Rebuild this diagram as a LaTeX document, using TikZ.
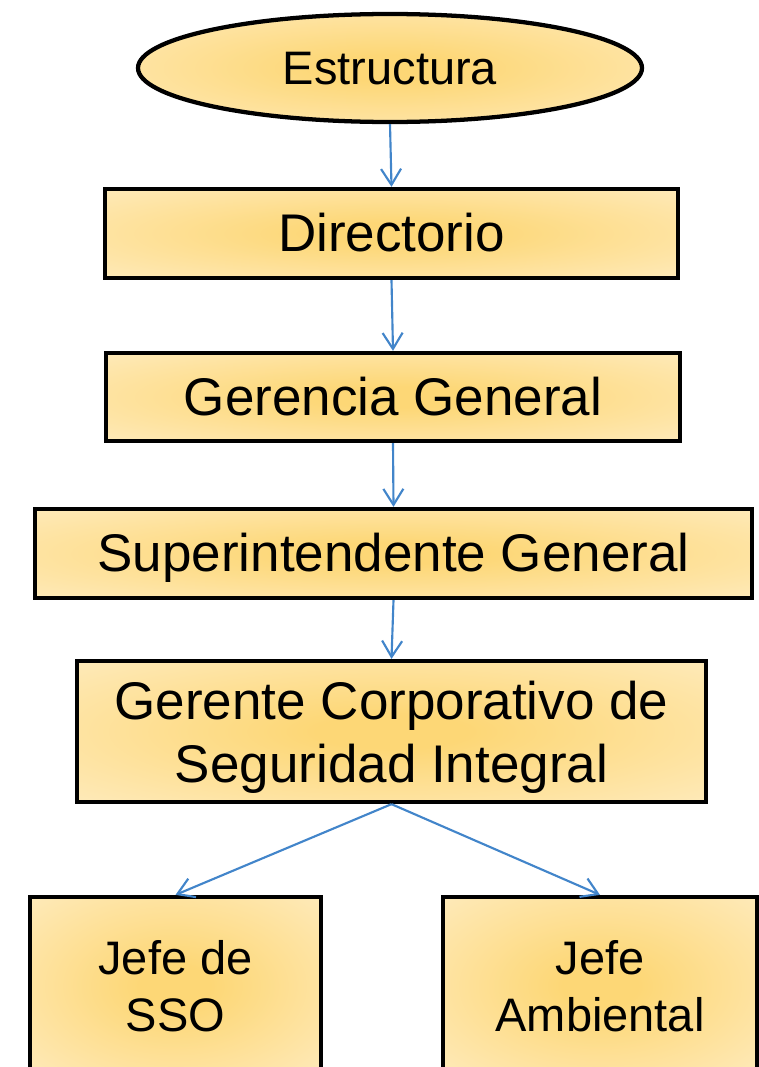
\documentclass[tikz,border=0pt]{standalone}
\usepackage{fontspec}
\setmainfont{Liberation Sans}
\usetikzlibrary{shapes.geometric,arrows.meta}

\definecolor{goldmid}{RGB}{253,215,118}
\definecolor{goldedge}{RGB}{255,243,218}
\definecolor{linkblue}{RGB}{66,133,202}

\pgfdeclareradialshading{goldglow}{\pgfpoint{0bp}{0bp}}{%
  color(0bp)=(goldmid); color(6bp)=(goldmid); color(50bp)=(goldedge)}

\tikzset{every picture/.style={line width=0.75pt}}
\tikzset{
  orgbox/.style={draw=black, line width=3.2pt, inner sep=0pt, align=center,
    shading=goldglow, font=\fontsize{39.75}{47.25}\selectfont},
  oneline/.style={text height=36pt, text depth=8.4pt},
  orgarrow/.style={draw=linkblue, line width=1.6pt, -{Straight Barb[length=12pt,width=15pt,line width=1.6pt]}}
}

\begin{document}
\begin{tikzpicture}[x=0.75pt,y=0.75pt,yscale=-1,xscale=1]
\useasboundingbox (0,0) rectangle (759,1067);

% Ellipse
\node (estructura) [orgbox, ellipse, text height=31.9pt, text depth=7.5pt,
  minimum width=378pt, minimum height=81pt,
  font=\fontsize{35.25}{42}\selectfont] at (390,68) {Estructura};
% Text Node
\node (directorio) [orgbox, oneline, minimum width=429.75pt, minimum height=66.75pt] at (391.5,233.5) {Directorio};
% Text Node
\node (gerencia) [orgbox, oneline, minimum width=430.5pt, minimum height=66pt] at (393,397) {Gerencia General};
% Text Node
\node (superint) [orgbox, oneline, minimum width=537.75pt, minimum height=66.75pt] at (393.5,553.5) {Superintendente General};
% Text Node
\node (gerente) [orgbox, text depth=0pt, minimum width=471.75pt, minimum height=105.75pt] at (391.5,731.5) {Gerente Corporativo de\\Seguridad Integral};
% Text Node
\node (jefesso) [orgbox, minimum width=218.25pt, minimum height=133.5pt,
  font=\fontsize{35.25}{42.75}\selectfont] at (175.5,986) {Jefe de\\SSO};
% Text Node
\node (jefeamb) [orgbox, minimum width=235.5pt, minimum height=133.5pt,
  font=\fontsize{35.25}{42.75}\selectfont] at (600,986) {Jefe\\Ambiental};

%Straight Lines
\draw [orgarrow] (estructura.south) -- (directorio.north);
\draw [orgarrow] (directorio.south) -- (gerencia.north);
\draw [orgarrow] (gerencia.south) -- (superint.north);
\draw [orgarrow] (superint.south) -- (gerente.north);
\draw [orgarrow] (gerente.south) -- (jefesso.north);
\draw [orgarrow] (gerente.south) -- (jefeamb.north);

\end{tikzpicture}
\end{document}
